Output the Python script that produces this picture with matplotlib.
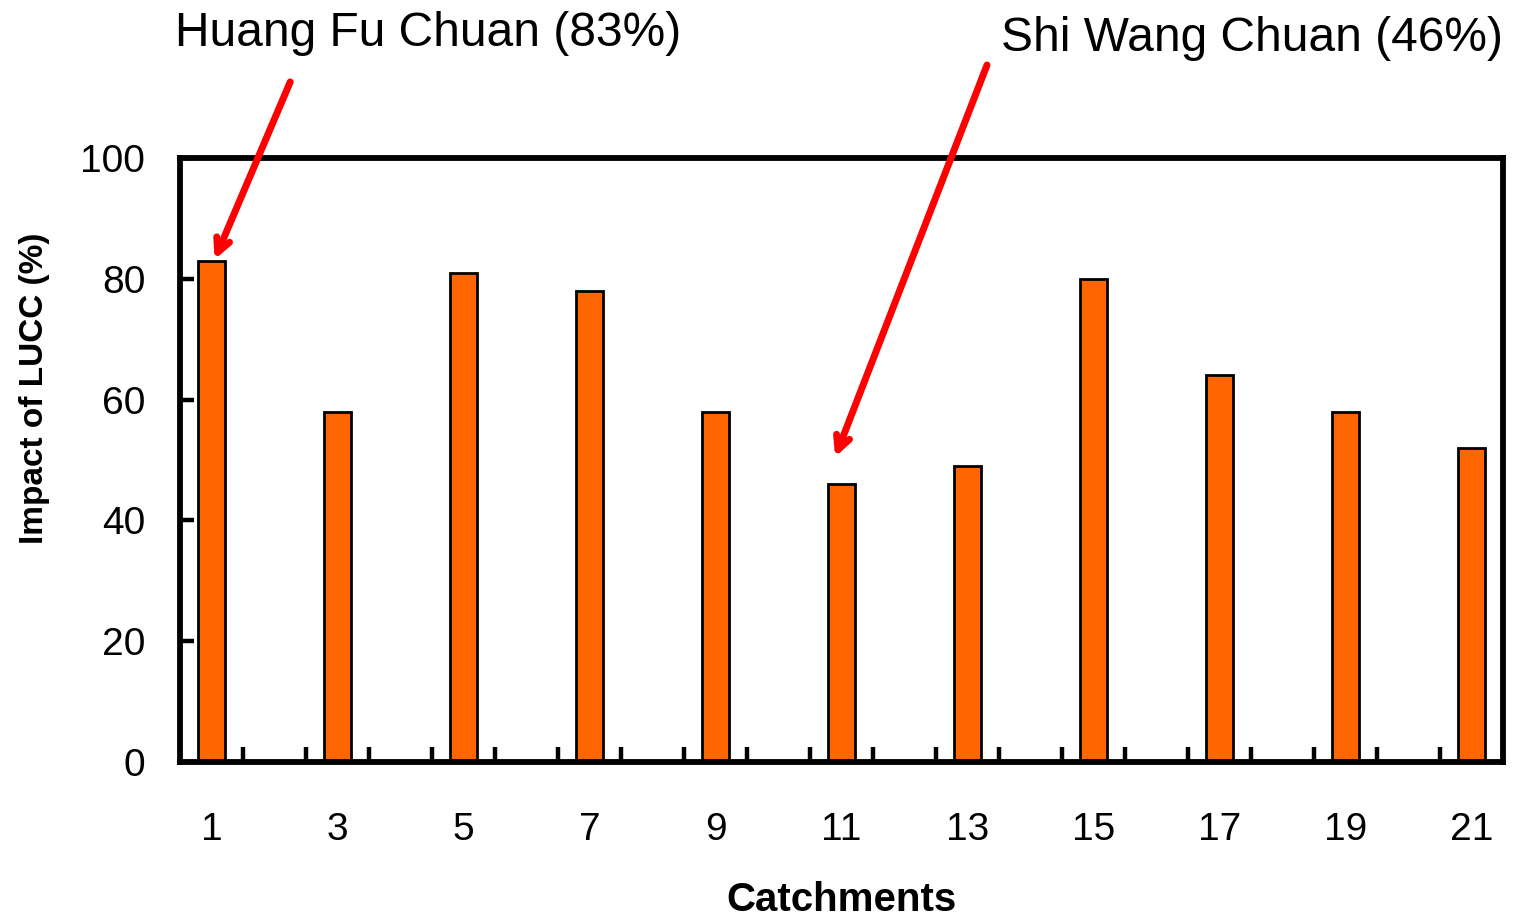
import matplotlib
matplotlib.use("Agg")
import matplotlib.pyplot as plt
import numpy as np

plt.rcParams['font.family'] = ['Liberation Sans', 'DejaVu Sans']

# ---- data ----
catchments = [1, 3, 5, 7, 9, 11, 13, 15, 17, 19, 21]
impact = [83, 58, 81, 78, 58, 46, 49, 80, 64, 58, 52]
n_categories = 21
y_ticks = [0, 20, 40, 60, 80, 100]
label_hf = "Huang Fu Chuan (83%)"
label_sw = "Shi Wang Chuan (46%)"

W, H = 1519, 919
fig = plt.figure(figsize=(W / 100, H / 100), dpi=100)
ax = fig.add_axes([180 / W, 1 - 762 / H, (1503 - 180) / W, (762 - 158) / H])

ax.bar(catchments, impact, width=0.42, color='#FF6600', edgecolor='black',
       linewidth=2.0, zorder=2)

ax.set_xlim(0.5, n_categories + 0.5)
ax.set_ylim(0, 100)

# y axis
ax.set_yticks(y_ticks)
ax.set_yticklabels([str(v) for v in y_ticks])
ax.tick_params(axis='y', direction='in', length=10, width=3.2, pad=25,
               labelsize=28, colors='black')

# x axis: labels at odd categories, tick marks at category boundaries
ax.set_xticks(catchments)
ax.set_xticklabels([str(c) for c in catchments])
ax.tick_params(axis='x', which='major', length=0, pad=36, labelsize=28)
ax.set_xticks(np.arange(1.5, n_categories, 1.0), minor=True)
ax.tick_params(axis='x', which='minor', direction='in', length=11, width=3.2)

for s in ax.spines.values():
    s.set_linewidth(4.2)
    s.set_color('black')

ax.set_ylabel("Impact of LUCC (%)", fontsize=24, fontweight='bold',
              va='center', ha='center')
ax.yaxis.set_label_coords(-0.1096, 0.619)
ax.set_xlabel("Catchments", fontsize=29, fontweight='bold', va='center')
ax.xaxis.set_label_coords(0.5, -0.229)

# annotations
arrow = dict(arrowstyle='->,head_length=1.0,head_width=0.5', color='#FF0000',
             lw=5.0, shrinkA=0, shrinkB=0)
ax.annotate('', xy=(1.05, 83.2), xytext=(2.25, 112.6), xycoords='data',
            textcoords='data', arrowprops=arrow, annotation_clip=False)
ax.annotate('', xy=(10.9, 50.5), xytext=(13.31, 115.4), xycoords='data',
            textcoords='data', arrowprops=arrow, annotation_clip=False)

fig.text(175 / W, 1 - 46 / H, label_hf, fontsize=34.5, ha='left', va='baseline')
fig.text(1503 / W, 1 - 51 / H, label_sw, fontsize=34.5, ha='right', va='baseline')

fig.savefig("out.png", dpi=100)
